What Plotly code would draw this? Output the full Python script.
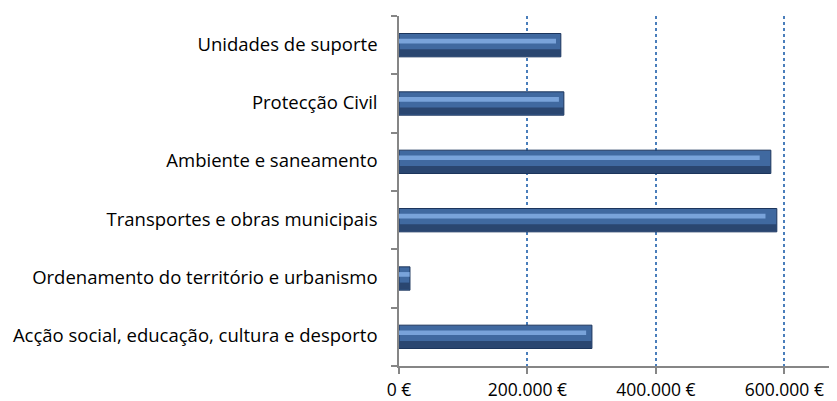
import plotly.graph_objects as go

categories = [
    "Acção social, educação, cultura e desporto",
    "Ordenamento do território e urbanismo",
    "Transportes e obras municipais",
    "Ambiente e saneamento",
    "Protecção Civil",
    "Unidades de suporte",
]
values = [300400, 17100, 588300, 579000, 256700, 252000]
tick_values = [0, 200000, 400000, 600000]
tick_labels = ["0 €", "200.000 €", "400.000 €", "600.000 €"]

FONT = "Open Sans"
FS = 18.5
FSX = 17.5

fig = go.Figure()
# main bar body
fig.add_trace(go.Bar(
    y=categories, x=values, orientation="h", width=0.40,
    marker=dict(color="#4069a0", line=dict(color="#1c355c", width=1)),
    hoverinfo="x+y", showlegend=False,
))
# lower dark band
fig.add_trace(go.Bar(
    y=categories, x=values, orientation="h", width=0.12, offset=-0.19,
    marker=dict(color="#2a4670", line=dict(width=0)),
    hoverinfo="skip", showlegend=False,
))
# upper highlight band
fig.add_trace(go.Bar(
    y=categories, x=[v * 0.97 for v in values], orientation="h", width=0.08, offset=0.03,
    marker=dict(color="#79a3da", line=dict(width=0)),
    hoverinfo="skip", showlegend=False,
))

# page body has an 8px default margin, so the figure is shifted by 8px
fig.update_layout(
    width=829, height=393,
    margin=dict(l=391, r=0, t=8, b=35),
    plot_bgcolor="white", paper_bgcolor="white",
    barmode="overlay",
    font=dict(family=FONT, size=FS, color="#000000"),
)
fig.update_xaxes(
    range=[0, 682000], automargin=False,
    tickvals=tick_values, ticktext=tick_labels,
    showline=True, linecolor="#868686", linewidth=1.5,
    ticks="outside", ticklen=6, tickcolor="#868686", tickwidth=1.5,
    showgrid=True, gridcolor="#4a7ebb", gridwidth=1.5, griddash="dot",
    zeroline=False, ticklabelstandoff=1,
    tickfont=dict(family=FONT, size=FSX),
)
fig.update_yaxes(
    type="category", categoryorder="array", categoryarray=categories,
    automargin=False,
    showline=True, linecolor="#868686", linewidth=1.5,
    ticks="outside", ticklen=6, tickcolor="#868686", tickwidth=1.5,
    tickson="boundaries", showgrid=False,
    ticklabelstandoff=16, ticklabelshift=-1,
    tickfont=dict(family=FONT, size=FS),
)

fig.write_html("out.html")
